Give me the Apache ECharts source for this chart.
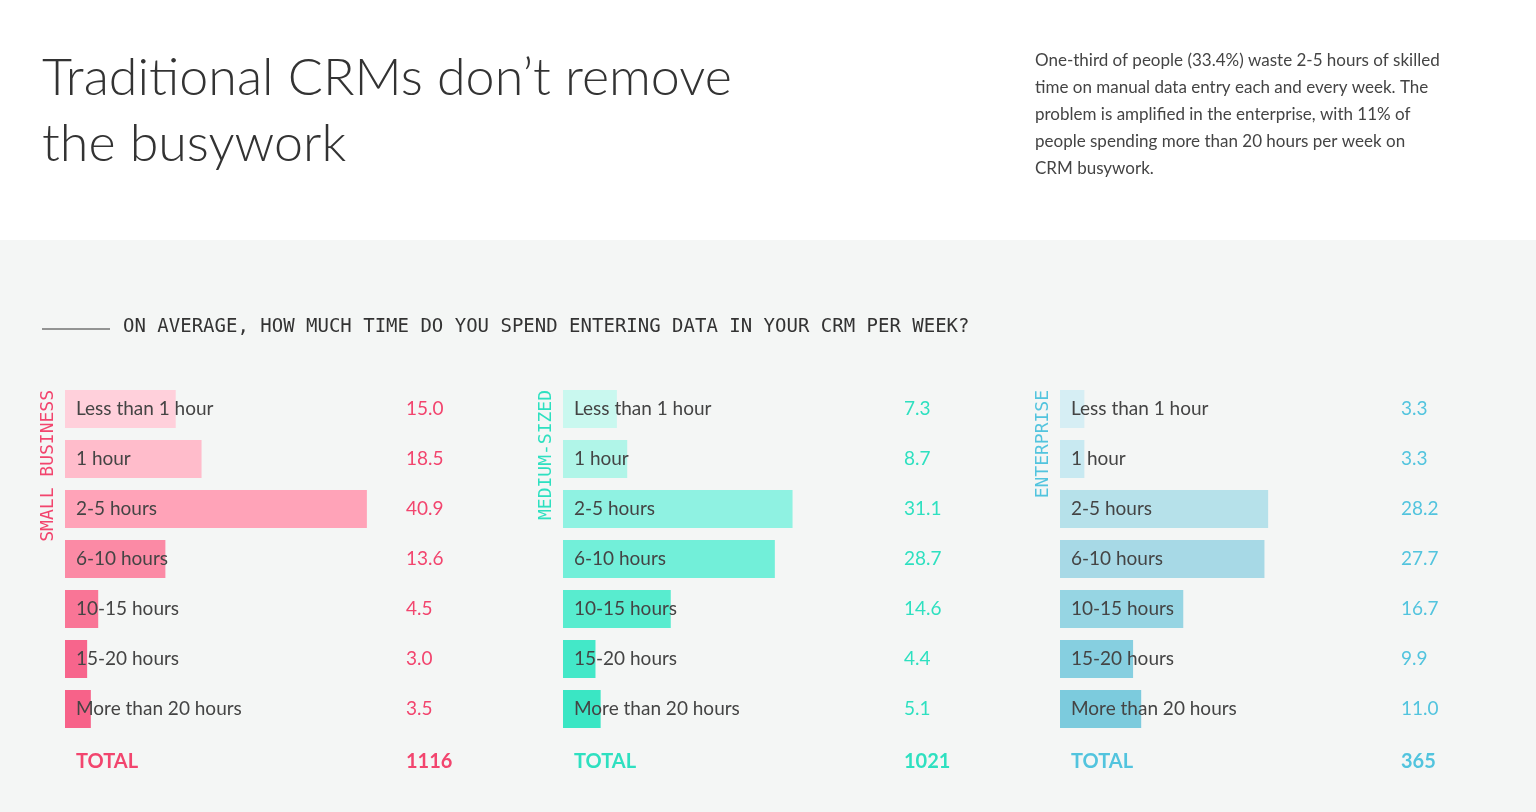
<!doctype html>
<html lang="en">
  <head>
    <meta charset="UTF-8" />
    <title>Traditional CRMs don’t remove the busywork</title>
    <style>
      html, body { width: 100%; height: 100%; margin: 0; padding: 0; background: #f4f6f5; }
      #Echart { width: 1536px; height: 812px; }
    </style>
  </head>
  <body>
    <div id="Echart"></div>
    <script src="https://cdn.jsdelivr.net/npm/echarts@6/dist/echarts.min.js"></script>
    <script>
      const categories = ['Less than 1 hour', '1 hour', '2-5 hours', '6-10 hours', '10-15 hours', '15-20 hours', 'More than 20 hours']
      const groups = ['SMALL BUSINESS', 'MEDIUM-SIZED', 'ENTERPRISE']
      const smallValues = [15.0, 18.5, 40.9, 13.6, 4.5, 3.0, 3.5]
      const mediumValues = [7.3, 8.7, 31.1, 28.7, 14.6, 4.4, 5.1]
      const enterpriseValues = [3.3, 3.3, 28.2, 27.7, 16.7, 9.9, 11.0]
      const totals = [1116, 1021, 365]

      const allValues = [smallValues, mediumValues, enterpriseValues]
      const textColors = ['#f2456e', '#2ee0c0', '#52c4de']
      const barColors = [
        ['#ffd0db', '#ffbccb', '#ffa3b8', '#fb8aa5', '#f97596', '#f7658c', '#f76289'],
        ['#c9f8ef', '#b0f5e8', '#8ff2e2', '#72efd9', '#58eccf', '#43e8c8', '#3ae6c4'],
        ['#d6eef4', '#c8e9f1', '#b6e1ea', '#a7d9e6', '#96d5e3', '#86cfe0', '#7ccbdd'],
      ]
      const lefts = [65, 563, 1060]

      const chart = echarts.init(document.getElementById('Echart'))
      const grid = [], xAxis = [], yAxis = [], series = [], graphic = []

      graphic.push({ type: 'rect', shape: { x: 0, y: 0, width: 1536, height: 240 }, style: { fill: '#ffffff' }, silent: true })
      graphic.push({ type: 'text', left: 42, top: 45, style: { text: 'Traditional CRMs don’t remove\nthe busywork', font: '300 52px Lato', fill: '#333', lineHeight: 66 } })
      graphic.push({ type: 'text', left: 1035, top: 47, style: {
        text: 'One-third of people (33.4%) waste 2-5 hours of skilled\ntime on manual data entry each and every week. The\nproblem is amplified in the enterprise, with 11% of\npeople spending more than 20 hours per week on\nCRM busywork.',
        font: '17px Lato', fill: '#444', lineHeight: 27 } })
      graphic.push({ type: 'line', shape: { x1: 42, y1: 329, x2: 110, y2: 329 }, style: { stroke: '#333', lineWidth: 1 } })
      graphic.push({ type: 'text', left: 123, top: 318, style: { text: 'ON AVERAGE, HOW MUCH TIME DO YOU SPEND ENTERING DATA IN YOUR CRM PER WEEK?', font: '19px "DejaVu Sans Mono"', fill: '#333' } })

      allValues.forEach((vals, i) => {
        const left = lefts[i]
        grid.push({ left: left, top: 384, width: 341, height: 350 })
        xAxis.push({ gridIndex: i, type: 'value', min: 0, max: 46.2, show: false })
        yAxis.push({ gridIndex: i, type: 'category', inverse: true, data: categories, show: false })
        yAxis.push({
          gridIndex: i, type: 'category', inverse: true, position: 'right',
          data: vals.map((v) => v.toFixed(1)),
          axisLine: { show: false }, axisTick: { show: false },
          axisLabel: { margin: 0, align: 'left', color: textColors[i], fontSize: 19, fontFamily: 'Lato' },
        })
        series.push({
          type: 'bar', xAxisIndex: i, yAxisIndex: i * 2, data: vals, barWidth: 38,
          itemStyle: { color: (p) => barColors[i][p.dataIndex] },
          label: { show: true, position: 'insideLeft', distance: 11, formatter: '{b}', color: '#444', fontSize: 19, fontFamily: 'Lato' },
          labelLayout: { hideOverlap: false },
          silent: true,
        })
        graphic.push({ type: 'text', left: left + 11, top: 752, style: { text: 'TOTAL', font: 'bold 20px Lato', fill: textColors[i] } })
        graphic.push({ type: 'text', left: left + 341, top: 752, style: { text: String(totals[i]), font: 'bold 20px Lato', fill: textColors[i] } })
        graphic.push({ type: 'text', x: left - 26, y: 390, rotation: Math.PI / 2, style: { text: groups[i], font: '18px "DejaVu Sans Mono"', fill: textColors[i], align: 'right', verticalAlign: 'top' } })
      })

      chart.setOption({ animation: false, grid, xAxis, yAxis, series, graphic })
    </script>
  </body>
</html>
